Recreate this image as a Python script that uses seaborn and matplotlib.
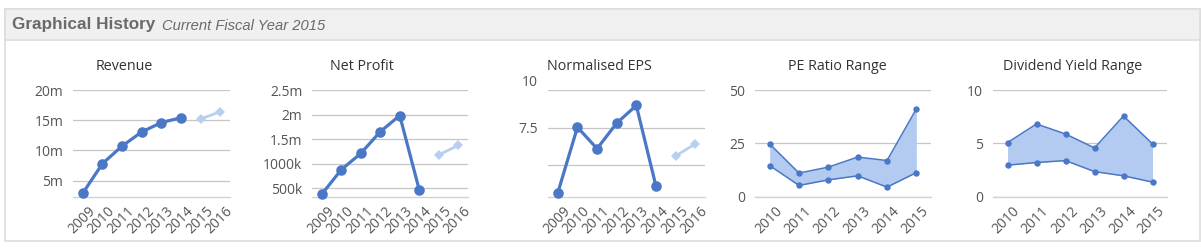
import numpy as np
import pandas as pd
import matplotlib
matplotlib.use("Agg")
import matplotlib.pyplot as plt
import matplotlib.patches as mpatches
from matplotlib.transforms import ScaledTranslation
import seaborn as sns

# ---------------- data ----------------
years_hist = ["2009", "2010", "2011", "2012", "2013", "2014", "2015", "2016"]
years_range = ["2010", "2011", "2012", "2013", "2014", "2015"]

revenue_actual = [2.9, 7.8, 10.7, 13.05, 14.6, 15.4]          # millions
revenue_forecast = [15.2, 16.4]                                 # 2015, 2016
revenue_ticks = [5, 10, 15, 20]
revenue_ticklabels = ["5m", "10m", "15m", "20m"]

profit_actual = [0.376, 0.876, 1.207, 1.65, 1.98, 0.465]       # millions
profit_forecast = [1.18, 1.37]
profit_ticks = [0.5, 1.0, 1.5, 2.0, 2.5]
profit_ticklabels = ["500k", "1000k", "1.5m", "2m", "2.5m"]

eps_actual = [3.15, 7.52, 6.09, 7.79, 8.97, 3.6]
eps_forecast = [5.6, 6.4]
eps_ticks = [5, 7.5, 10]
eps_ticklabels = ["", "7.5", "10"]

pe_high = [24.7, 11.0, 13.8, 18.5, 16.9, 41.1]
pe_low = [14.5, 5.2, 7.8, 9.7, 4.4, 11.2]
pe_ticks = [0, 25, 50]
pe_ticklabels = ["0", "25", "50"]

dy_high = [5.06, 6.81, 5.87, 4.56, 7.56, 4.94]
dy_low = [2.94, 3.19, 3.37, 2.34, 1.94, 1.35]
dy_ticks = [0, 5, 10]
dy_ticklabels = ["0", "5", "10"]

chart_titles = ["Revenue", "Net Profit", "Normalised EPS", "PE Ratio Range", "Dividend Yield Range"]
header_title = "Graphical History"
header_sub = "Current Fiscal Year 2015"

# ---------------- style ----------------
sns.set_style("white")
plt.rcParams["font.family"] = ["Open Sans", "DejaVu Sans"]

MAIN = "#4a77c6"
FILL = "#b3caf1"
FORE = "#b9cff1"
GRID = "#c6c6c6"
AXIS = "#c8d4e0"
TXT = "#555555"
TITLE = "#333333"

W, H = 1201, 250
fig = plt.figure(figsize=(W / 100, H / 100), dpi=100)
fig.patch.set_facecolor("white")

# outer box and header band
fig.patches.append(mpatches.Rectangle((4.5 / W, 1 - 241 / H), (1200 - 4.5) / W, (241 - 8.5) / H,
                                      transform=fig.transFigure, facecolor="white",
                                      edgecolor="#dddddd", lw=1.2, zorder=-10))
fig.patches.append(mpatches.Rectangle((4.5 / W, 1 - 40 / H), (1200 - 4.5) / W, (40 - 8.5) / H,
                                      transform=fig.transFigure, facecolor="#f0f0f0",
                                      edgecolor="#dddddd", lw=1.2, zorder=-9))
fig.text(11.5 / W, 1 - 25 / H, header_title, fontsize=12.3, fontweight="bold", color="#6a6a6a",
         family=["Liberation Sans", "DejaVu Sans"], va="center", ha="left")
fig.text(161.5 / W, 1 - 25.5 / H, header_sub, fontsize=10.6, style="italic", color="#6a6a6a",
         family=["Liberation Sans", "DejaVu Sans"], va="center", ha="left")


def make_ax(x0, x1, ytop=90, ybot=196.5):
    return fig.add_axes([x0 / W, 1 - ybot / H, (x1 - x0) / W, (ybot - ytop) / H])


def style_ax(ax, cats, ylim, ticks, ticklabels):
    n = len(cats)
    ax.set_xlim(-0.5, n - 0.5)
    ax.set_ylim(*ylim)
    ax.set_yticks(ticks)
    ax.set_yticklabels(ticklabels)
    ax.set_xticks(range(n))
    ax.set_xticklabels(cats, rotation=45, ha="right", va="center", rotation_mode="anchor")
    ax.set_xticks(np.arange(-0.5, n, 1.0), minor=True)
    ax.set_xlabel("")
    ax.set_ylabel("")
    for s in ["top", "right", "left"]:
        ax.spines[s].set_visible(False)
    ax.spines["bottom"].set_color(AXIS)
    ax.spines["bottom"].set_linewidth(1.0)
    ax.grid(axis="y", color=GRID, lw=0.9)
    ax.grid(axis="x", visible=False)
    ax.set_axisbelow(True)
    ax.tick_params(axis="y", length=0, pad=7, labelsize=10, labelcolor=TXT)
    ax.tick_params(axis="x", which="major", length=0, pad=9, labelsize=10, labelcolor=TXT)
    ax.tick_params(axis="x", which="minor", length=5, width=1.0, color=AXIS, direction="out")
    ax.patch.set_alpha(0)
    for lab in ax.get_xticklabels():
        lab.set_transform(lab.get_transform() + ScaledTranslation(7.5 / 72, 0, fig.dpi_scale_trans))
    if ax.get_legend() is not None:
        ax.get_legend().remove()


def hist_chart(x0, x1, actual, forecast, ylim, ticks, labels):
    ax = make_ax(x0, x1)
    pos = np.arange(len(years_hist))
    df_a = pd.DataFrame({"x": pos[:len(actual)], "v": actual})
    df_f = pd.DataFrame({"x": pos[len(actual):], "v": forecast})
    sns.lineplot(data=df_a, x="x", y="v", ax=ax, color=MAIN, lw=2.3, marker="o",
                 markersize=7.6, markeredgewidth=0, clip_on=False, zorder=3)
    sns.lineplot(data=df_f, x="x", y="v", ax=ax, color=FORE, lw=2.0, marker="D",
                 markersize=5.2, markeredgewidth=0, clip_on=False, zorder=3)
    style_ax(ax, years_hist, ylim, ticks, labels)
    return ax


def range_chart(x0, x1, high, low, ylim, ticks, labels):
    ax = make_ax(x0, x1)
    pos = np.arange(len(years_range))
    df = pd.DataFrame({"x": pos, "high": high, "low": low})
    ax.fill_between(df["x"], df["low"], df["high"], color=FILL, lw=0, zorder=2)
    sns.lineplot(data=df, x="x", y="high", ax=ax, color=MAIN, lw=1.1, marker="o",
                 markersize=4.6, markeredgewidth=0, clip_on=False, zorder=3)
    sns.lineplot(data=df, x="x", y="low", ax=ax, color=MAIN, lw=1.1, marker="o",
                 markersize=4.6, markeredgewidth=0, clip_on=False, zorder=3)
    style_ax(ax, years_range, ylim, ticks, labels)
    return ax


hist_chart(73, 230, revenue_actual, revenue_forecast, (2.35, 20), revenue_ticks, revenue_ticklabels)
hist_chart(312, 468, profit_actual, profit_forecast, (0.33, 2.5), profit_ticks, profit_ticklabels)
ax_eps = hist_chart(548, 705, eps_actual, eps_forecast, (2.9, 10), eps_ticks, eps_ticklabels)
for lab in ax_eps.get_yticklabels():
    if lab.get_text() == "10":
        lab.set_transform(lab.get_transform() + ScaledTranslation(0, 7 / 72, fig.dpi_scale_trans))
range_chart(755, 931, pe_high, pe_low, (0, 50), pe_ticks, pe_ticklabels)
range_chart(993, 1167, dy_high, dy_low, (0, 10), dy_ticks, dy_ticklabels)

title_centers = [124, 362, 599, 837, 1073]
for t, cx in zip(chart_titles, title_centers):
    fig.text(cx / W, 1 - 67 / H, t, ha="center", va="center", fontsize=10.3, color=TITLE)

fig.savefig("out.png", dpi=100, facecolor="white")
